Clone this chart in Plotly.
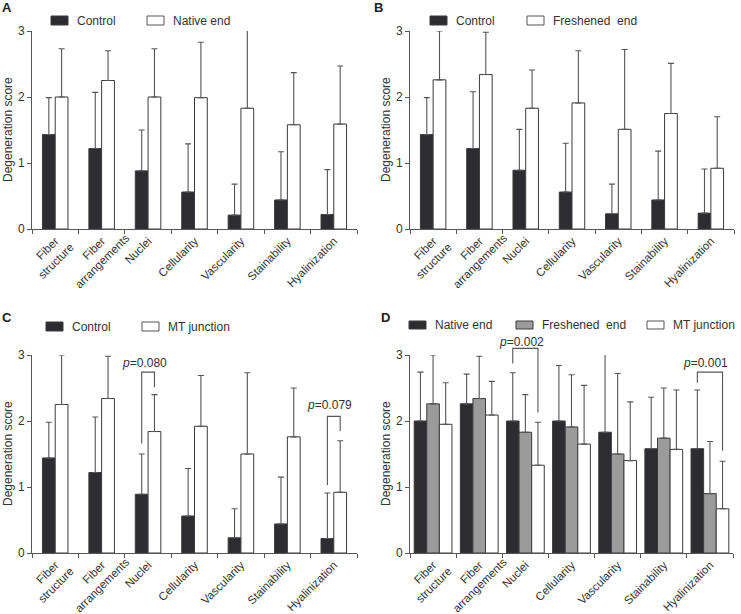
import plotly.graph_objects as go

W, H = 741, 614

categories = ["Fiber structure", "Fiber arrangements", "Nuclei", "Cellularity",
              "Vascularity", "Stainability", "Hyalinization"]
# displayed tick text (two-line labels for the first two categories)
tick_lines = [["Fiber", "structure"], ["Fiber", "arrangements"], ["Nuclei"], ["Cellularity"],
              ["Vascularity"], ["Stainability"], ["Hyalinization"]]

# Panel A
a_control = [1.43, 1.22, 0.88, 0.56, 0.21, 0.44, 0.22]
a_control_sd = [0.56, 0.85, 0.62, 0.73, 0.47, 0.73, 0.68]
a_native = [2.00, 2.25, 2.00, 1.99, 1.83, 1.58, 1.59]
a_native_sd = [0.73, 0.45, 0.73, 0.84, 1.27, 0.79, 0.88]

# Panel B
b_control = [1.43, 1.22, 0.89, 0.56, 0.23, 0.44, 0.24]
b_control_sd = [0.56, 0.86, 0.62, 0.74, 0.45, 0.74, 0.67]
b_fresh = [2.26, 2.34, 1.83, 1.91, 1.51, 1.75, 0.92]
b_fresh_sd = [0.74, 0.64, 0.58, 0.79, 1.21, 0.76, 0.78]

# Panel C
c_control = [1.44, 1.22, 0.89, 0.56, 0.23, 0.44, 0.22]
c_control_sd = [0.54, 0.84, 0.61, 0.72, 0.44, 0.71, 0.69]
c_mt = [2.25, 2.34, 1.84, 1.92, 1.50, 1.76, 0.92]
c_mt_sd = [0.75, 0.64, 0.56, 0.77, 1.23, 0.74, 0.78]

# Panel D
d_native = [2.00, 2.26, 2.00, 2.00, 1.83, 1.58, 1.58]
d_native_sd = [0.74, 0.45, 0.73, 0.84, 1.27, 0.78, 0.89]
d_fresh = [2.26, 2.34, 1.83, 1.91, 1.50, 1.74, 0.90]
d_fresh_sd = [0.74, 0.64, 0.57, 0.79, 1.22, 0.76, 0.79]
d_mt = [1.95, 2.09, 1.33, 1.65, 1.40, 1.57, 0.67]
d_mt_sd = [0.63, 0.51, 0.65, 0.89, 0.89, 0.90, 0.72]

# significance annotations: (panel, category index, left bar, right bar, top, left bottom, right bottom, text y, label)
sig = [
    ("C", 2, 0, 1, 2.74, 1.66, 2.51, 2.88, "0.080"),
    ("C", 6, 0, 1, 2.07, 1.03, 1.85, 2.25, "0.079"),
    ("D", 2, 0, 2, 3.10, 2.87, 2.13, 3.20, "0.002"),
    ("D", 6, 0, 2, 2.74, 2.58, 1.55, 2.88, "0.001"),
]

DARK = "#2c2c31"
GRAY = "#9b9b9b"
WHITE = "#ffffff"
EDGE = "#3a3a3a"
AXC = "#555555"
FONT = "Liberation Sans, Arial, sans-serif"
TXT = "#333333"
TICK_SIZE = 11.5

# ---- centred multi-line rotated tick labels (pad with no-break spaces) ----
# approximate Arial/Liberation Sans advance widths (em)
_cw = {'a': .556, 'b': .556, 'c': .5, 'd': .556, 'e': .556, 'f': .278, 'g': .556, 'h': .556,
       'i': .222, 'j': .222, 'k': .5, 'l': .222, 'm': .833, 'n': .556, 'o': .556, 'p': .556,
       'q': .556, 'r': .333, 's': .5, 't': .278, 'u': .556, 'v': .5, 'w': .722, 'x': .5,
       'y': .5, 'z': .5, 'F': .611, 'N': .722, 'C': .722, 'V': .667, 'S': .667, 'H': .722}

def text_w(s):
    return sum(_cw.get(ch, .556) for ch in s) * TICK_SIZE

NBSP_W = 0.278 * TICK_SIZE
SHIFT_ALONG = 22.0  # px along the text direction
LINE2_BACK = 3.0    # px: second line pulled back along the text direction

def padded(lines):
    if len(lines) == 1:
        n = int(round(SHIFT_ALONG / NBSP_W))
        return lines[0] + "\u00a0" * n
    l1, l2 = lines
    delta = (text_w(l2) - text_w(l1)) / 2
    n1 = int(round(SHIFT_ALONG / NBSP_W))
    n2 = max(0, int(round((SHIFT_ALONG - delta + LINE2_BACK) / NBSP_W)))
    return l1 + "\u00a0" * n1 + "<br>" + l2 + "\u00a0" * n2

tick_text = [padded(ls) for ls in tick_lines]
SHIFT_PX = int(round(SHIFT_ALONG * 0.7071))

# panel pixel boxes: left, right, top, bottom
boxes = {
    "A": (32, 357, 31, 229),
    "B": (410, 734, 31, 229),
    "C": (32, 357, 355, 553),
    "D": (410, 733, 355, 553),
}

def px(x):
    return x / W

def py(y):
    return 1 - y / H

panels = {
    "A": [("Control", a_control, a_control_sd, DARK), ("Native end", a_native, a_native_sd, WHITE)],
    "B": [("Control", b_control, b_control_sd, DARK), ("Freshened\u00a0 end", b_fresh, b_fresh_sd, WHITE)],
    "C": [("Control", c_control, c_control_sd, DARK), ("MT junction", c_mt, c_mt_sd, WHITE)],
    "D": [("Native end", d_native, d_native_sd, DARK), ("Freshened\u00a0 end", d_fresh, d_fresh_sd, GRAY),
          ("MT junction", d_mt, d_mt_sd, WHITE)],
}

bar_w = {"A": 0.275, "B": 0.275, "C": 0.275, "D": 0.273}

fig = go.Figure()
layout = dict(width=W, height=H, margin=dict(l=0, r=0, t=0, b=0, pad=0, autoexpand=False),
              paper_bgcolor="white", plot_bgcolor="white",
              barmode="overlay", showlegend=False,
              font=dict(family=FONT, size=12, color=TXT))
shapes = []
annotations = []

offsets_of = {}
for k, (name, (l, r, t, b)) in enumerate(boxes.items()):
    idx = "" if k == 0 else str(k + 1)
    series = panels[name]
    n = len(series)
    w = bar_w[name]
    offsets = [-n * w / 2 + j * w for j in range(n)]
    offsets_of[name] = offsets
    for j, (lab, vals, sd, col) in enumerate(series):
        fig.add_trace(go.Bar(
            x=categories, y=vals, name=lab,
            width=[w] * len(vals), offset=[offsets[j]] * len(vals),
            marker=dict(color=col, line=dict(color=EDGE, width=1)),
            error_y=dict(type="data", array=sd, arrayminus=[0] * len(sd), symmetric=False,
                         color="#555555", thickness=1.1, width=3),
            xaxis="x" + idx, yaxis="y" + idx,
        ))
    layout["xaxis" + idx] = dict(
        domain=[px(l), px(r)], anchor="y" + idx, type="category", automargin=False,
        categoryorder="array", categoryarray=categories,
        tickmode="array", tickvals=categories, ticktext=tick_text,
        range=[-0.5, len(categories) - 0.5],
        showline=True, linecolor=AXC, linewidth=1, showgrid=False, zeroline=False,
        ticks="outside", tickson="boundaries", ticklen=4, tickcolor=AXC,
        tickangle=-45, tickfont=dict(size=TICK_SIZE, color=TXT, family=FONT), fixedrange=True,
        ticklabelshift=SHIFT_PX, ticklabelstandoff=-SHIFT_PX,
    )
    layout["yaxis" + idx] = dict(
        domain=[py(b), py(t)], anchor="x" + idx, range=[0, 3], automargin=False,
        tickvals=[0, 1, 2, 3], showline=True, linecolor=AXC, linewidth=1,
        showgrid=False, zeroline=False, ticks="outside", ticklen=4, tickcolor=AXC,
        tickfont=dict(size=12, color=TXT, family=FONT), fixedrange=True,
    )
    # y title
    annotations.append(dict(text="Degeneration score", x=px(l - 24), y=py((t + b) / 2),
                            xref="paper", yref="paper", textangle=-90, showarrow=False,
                            xanchor="center", yanchor="middle",
                            font=dict(size=12, color=TXT, family=FONT)))

# panel letters
letters = {"A": (0, 7), "B": (372, 7), "C": (0, 317), "D": (379, 317)}
for lt, (x, y) in letters.items():
    annotations.append(dict(text="<b>%s</b>" % lt, x=px(x), y=py(y), xref="paper", yref="paper",
                            xanchor="left", yanchor="middle", showarrow=False,
                            font=dict(size=13, color="#222222", family=FONT)))

# manual legends: rect lefts, rect top, rect bottom (pixels)
legend_pos = {
    "A": ([51, 147], 16, 25),
    "B": ([430, 527], 16, 25),
    "C": ([46, 142], 322, 331),
    "D": ([409, 516, 647], 321, 329),
}
for name, (lefts, rt, rb) in legend_pos.items():
    for (lab, vals, sd, col), lx in zip(panels[name], lefts):
        shapes.append(dict(type="rect", xref="paper", yref="paper",
                           x0=px(lx), x1=px(lx + 17), y0=py(rb), y1=py(rt),
                           fillcolor=col, line=dict(color=EDGE if col != WHITE else "#555555", width=1)))
        annotations.append(dict(text=lab, x=px(lx + 24), y=py((rt + rb) / 2), xref="paper", yref="paper",
                                xanchor="left", yanchor="middle", showarrow=False,
                                font=dict(size=12, color=TXT, family=FONT)))

# significance brackets, computed through the panel scales
def xdata_to_paper(name, xv):
    l, r, t, b = boxes[name]
    return px(l + (xv + 0.5) / len(categories) * (r - l))

def ydata_to_paper(name, yv):
    l, r, t, b = boxes[name]
    return py(b - yv / 3.0 * (b - t))

for name, ci, jl, jr, top, lb, rb_, ty, lab in sig:
    w = bar_w[name]
    offs = offsets_of[name]
    xl = xdata_to_paper(name, ci + offs[jl] + w / 2)
    xr = xdata_to_paper(name, ci + offs[jr] + w / 2)
    yt = ydata_to_paper(name, top)
    path = "M %f,%f L %f,%f L %f,%f L %f,%f" % (
        xl, ydata_to_paper(name, lb), xl, yt, xr, yt, xr, ydata_to_paper(name, rb_))
    shapes.append(dict(type="path", xref="paper", yref="paper", path=path,
                       line=dict(color="#555555", width=1.1)))
    annotations.append(dict(text="<i>p</i>=" + lab, x=(xl + xr) / 2 - px(4), y=ydata_to_paper(name, ty),
                            xref="paper", yref="paper", xanchor="center", yanchor="middle",
                            showarrow=False, font=dict(size=12, color=TXT, family=FONT)))

layout["shapes"] = shapes
layout["annotations"] = annotations
fig.update_layout(**layout)
fig.write_html("out.html")
